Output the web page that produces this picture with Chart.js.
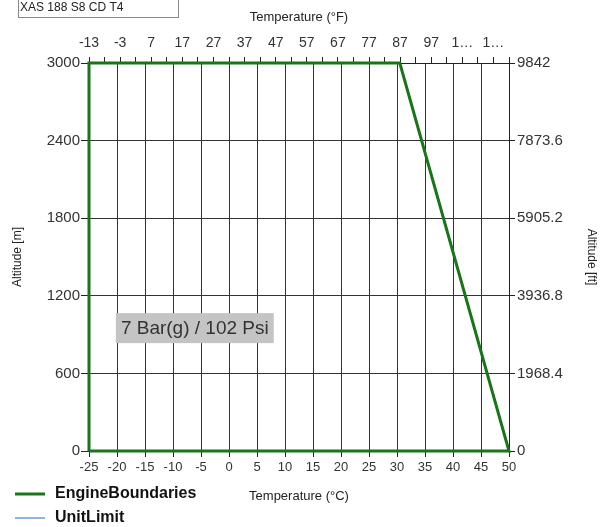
<!DOCTYPE html>
<html>
<head>
<meta charset="utf-8">
<script src="https://cdn.jsdelivr.net/npm/chart.js@4.4.0/dist/chart.umd.min.js"></script>
<style>
  body { margin: 0; background: #fff; }
  #wrap { width: 601px; height: 527px; position: relative; }
</style>
</head>
<body>
<div id="wrap"><canvas id="alt" width="601" height="527"></canvas></div>
<script>
// engine boundary polygon (degC / m)
let engineTemp = [-25, -25, 30.5, 50, -25];
let engineAlt = [0, 3000, 3000, 0, 0];
let unitTemp = [];
let unitAlt = [];

let celsiusTicks = [-25, -20, -15, -10, -5, 0, 5, 10, 15, 20, 25, 30, 35, 40, 45, 50];
let fahrTicks = [-13, -8, -3, 2, 7, 12, 17, 22, 27, 32, 37, 42, 47, 52, 57, 62, 67, 72, 77, 82, 87, 92, 97, 102, 107, 112, 117, 122];
let meterTicks = [0, 600, 1200, 1800, 2400, 3000];
let feetTicks = [0, 1968.4, 3936.8, 5905.2, 7873.6, 9842];

let modelName = 'XAS 188 S8 CD T4';
let pressureText = '7 Bar(g) / 102 Psi';

const FONT = '"Liberation Sans", Arial, sans-serif';
const gridCol = '#333';

function pts(xs, ys) {
    return xs.map((x, i) => ({x: x, y: ys[i]}));
}

function setTicks(arr) {
    return function(scale) {
        scale.ticks = arr.map(v => ({value: v}));
    };
}

const extras = {
    id: 'extras',
    afterDraw(chart) {
        const ctx = chart.ctx;
        const x = chart.scales.x, y = chart.scales.y;
        ctx.save();

        // model box top-left
        ctx.strokeStyle = '#888';
        ctx.lineWidth = 1;
        ctx.strokeRect(18.5, -1.5, 160, 19);
        ctx.fillStyle = '#222';
        ctx.font = '12px ' + FONT;
        ctx.textBaseline = 'middle';
        ctx.textAlign = 'left';
        ctx.fillText(modelName, 20, 8);

        // pressure label
        let lx = x.getPixelForValue(-20.2);
        let ly = y.getPixelForValue(950);
        ctx.font = '19px ' + FONT;
        let w = ctx.measureText(pressureText).width + 10;
        ctx.fillStyle = '#c4c4c4';
        ctx.fillRect(lx, ly - 15, w, 30);
        ctx.fillStyle = '#333';
        ctx.fillText(pressureText, lx + 5, ly + 1);

        // legend
        ctx.font = 'bold 16px ' + FONT;
        chart.data.datasets.forEach((ds, i) => {
            let yy = 494 + i * 24;
            ctx.strokeStyle = ds.borderColor;
            ctx.lineWidth = i == 0 ? 3 : 1.5;
            ctx.beginPath();
            ctx.moveTo(15, yy);
            ctx.lineTo(45, yy);
            ctx.stroke();
            ctx.fillStyle = '#111';
            ctx.fillText(ds.label, 55, yy);
        });
        ctx.restore();
    }
};

var ctx = document.getElementById('alt').getContext('2d');
var chart = new Chart(ctx, {
    type: 'scatter',
    data: {
        datasets: [
            {
                label: 'EngineBoundaries',
                data: pts(engineTemp, engineAlt),
                showLine: true,
                borderColor: '#197519',
                borderWidth: 3,
                pointRadius: 0,
                fill: false,
                clip: 4,
                xAxisID: 'x',
                yAxisID: 'y'
            },
            {
                label: 'UnitLimit',
                data: pts(unitTemp, unitAlt),
                showLine: true,
                borderColor: '#6b9bd1',
                borderWidth: 1.5,
                pointRadius: 0,
                xAxisID: 'x',
                yAxisID: 'y'
            }
        ]
    },
    options: {
        responsive: false,
        animation: false,
        layout: { padding: 0 },
        plugins: {
            legend: { display: false },
            tooltip: { enabled: false }
        },
        scales: {
            x: {
                type: 'linear',
                position: 'bottom',
                min: -25,
                max: 50,
                afterBuildTicks: setTicks(celsiusTicks),
                afterFit: function(s) { s.height = 76; },
                grid: { color: gridCol, tickColor: '#222', tickLength: 6 },
                border: { color: '#222' },
                ticks: { color: '#333', padding: 3, maxRotation: 0, autoSkip: false, font: { family: FONT, size: 13 } },
                title: { display: true, text: 'Temperature (°C)', color: '#222', padding: { top: 0, bottom: 23 }, font: { family: FONT, size: 13 } }
            },
            x2: {
                type: 'linear',
                position: 'top',
                min: -13,
                max: 122,
                afterBuildTicks: setTicks(fahrTicks),
                afterFit: function(s) { s.height = 63; },
                grid: { drawOnChartArea: false, tickColor: '#222', tickLength: 6 },
                border: { color: '#222' },
                ticks: {
                    color: '#333', padding: 5, maxRotation: 0, autoSkip: false,
                    font: { family: FONT, size: 14 },
                    callback: function(v) {
                        if ((v + 13) % 10 != 0) return '';
                        return v >= 100 ? '1…' : String(v);
                    }
                },
                title: { display: true, text: 'Temperature (°F)', color: '#222', padding: { top: 10, bottom: 0 }, font: { family: FONT, size: 13 } }
            },
            y: {
                type: 'linear',
                position: 'left',
                min: 0,
                max: 3000,
                afterBuildTicks: setTicks(meterTicks),
                afterFit: function(s) { s.width = 89; },
                grid: { color: gridCol, tickColor: '#222', tickLength: 8 },
                border: { color: '#222' },
                ticks: {
                    color: '#333', padding: 1, font: { family: FONT, size: 15 },
                    callback: function(v) { return String(v); }
                },
                title: { display: true, text: 'Altitude [m]', color: '#222', padding: { top: 10, bottom: 0 }, font: { family: FONT, size: 12 } }
            },
            y2: {
                type: 'linear',
                position: 'right',
                min: 0,
                max: 9842,
                afterBuildTicks: setTicks(feetTicks),
                afterFit: function(s) { s.width = 92; },
                grid: { drawOnChartArea: false, tickColor: '#222', tickLength: 6 },
                border: { color: '#222' },
                ticks: {
                    color: '#333', padding: 2, font: { family: FONT, size: 15 },
                    callback: function(v) { return String(v); }
                },
                title: { display: true, text: 'Altitude [ft]', color: '#222', padding: { top: 2, bottom: 0 }, font: { family: FONT, size: 12 } }
            }
        }
    },
    plugins: [extras]
});
</script>
</body>
</html>
